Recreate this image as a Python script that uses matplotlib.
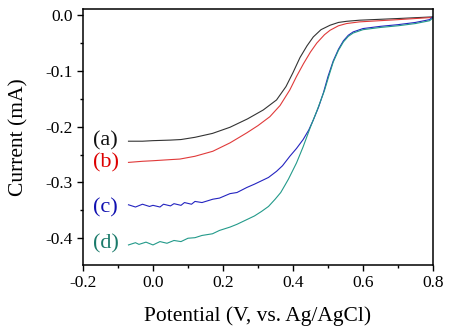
import matplotlib
matplotlib.use("Agg")
import matplotlib.pyplot as plt
from matplotlib.ticker import MultipleLocator

plt.rcParams['font.family'] = ['Liberation Serif', 'DejaVu Serif']

# curva (a)
va = [-0.07, -0.03, 0.00, 0.05, 0.08, 0.12, 0.17, 0.22, 0.27, 0.315, 0.353,
      0.38, 0.40, 0.42, 0.44, 0.458, 0.48, 0.506, 0.53, 0.553, 0.59, 0.70, 0.80]
ia = [-0.226, -0.226, -0.225, -0.224, -0.223, -0.219, -0.212, -0.201, -0.186,
      -0.170, -0.152, -0.128, -0.103, -0.076, -0.055, -0.039, -0.026, -0.018,
      -0.013, -0.011, -0.009, -0.006, -0.003]
# curva (b)
vb = [-0.07, -0.03, 0.00, 0.05, 0.077, 0.12, 0.171, 0.22, 0.268, 0.30, 0.334,
      0.363, 0.391, 0.41, 0.43, 0.45, 0.468, 0.49, 0.506, 0.53, 0.553, 0.59,
      0.70, 0.80]
ib = [-0.264, -0.262, -0.261, -0.259, -0.258, -0.253, -0.244, -0.229, -0.211,
      -0.198, -0.182, -0.162, -0.134, -0.110, -0.087, -0.066, -0.050, -0.035,
      -0.027, -0.019, -0.015, -0.012, -0.008, -0.004]
# curva (c)
vc = [-0.07, -0.05, -0.03, -0.01, 0.00, 0.02, 0.03, 0.05, 0.06, 0.08, 0.09,
      0.11, 0.12, 0.14, 0.171, 0.19, 0.22, 0.24, 0.268, 0.29, 0.31, 0.33,
      0.353, 0.37, 0.391, 0.41, 0.429, 0.445, 0.458, 0.473, 0.487, 0.50, 0.515,
      0.53, 0.544, 0.558, 0.572, 0.60, 0.65, 0.70, 0.75, 0.79, 0.80]
ic = [-0.340, -0.344, -0.339, -0.343, -0.341, -0.344, -0.339, -0.342, -0.338,
      -0.341, -0.336, -0.339, -0.334, -0.336, -0.330, -0.328, -0.320, -0.318,
      -0.309, -0.303, -0.297, -0.291, -0.280, -0.270, -0.253, -0.239, -0.223,
      -0.206, -0.188, -0.165, -0.139, -0.110, -0.082, -0.061, -0.046, -0.036,
      -0.030, -0.024, -0.020, -0.017, -0.013, -0.008, -0.003]
# curva (d)
vd = [-0.07, -0.05, -0.04, -0.02, 0.00, 0.02, 0.04, 0.06, 0.08, 0.10, 0.12,
      0.14, 0.17, 0.19, 0.22, 0.24, 0.27, 0.29, 0.31, 0.33, 0.349, 0.365,
      0.377, 0.387, 0.41, 0.429, 0.449, 0.468, 0.49, 0.503, 0.515, 0.53, 0.544,
      0.558, 0.572, 0.60, 0.65, 0.70, 0.75, 0.79, 0.80]
idd = [-0.412, -0.408, -0.411, -0.407, -0.412, -0.406, -0.409, -0.404,
       -0.406, -0.400, -0.399, -0.395, -0.392, -0.386, -0.380, -0.375, -0.366,
       -0.360, -0.352, -0.343, -0.330, -0.318, -0.305, -0.294, -0.265, -0.236,
       -0.202, -0.172, -0.135, -0.108, -0.084, -0.063, -0.048, -0.038, -0.032,
       -0.026, -0.022, -0.019, -0.015, -0.010, -0.005]

etiquetas = ['(a)', '(b)', '(c)', '(d)']
pos_etiq = [-0.225, -0.264, -0.345, -0.41]
colores = ['#333333', '#e03a3a', '#2424c0', '#239a8a']
colores_txt = ['#111111', '#dd0000', '#1010b0', '#1a7a6a']

fig = plt.figure(figsize=(4.5, 3.29), dpi=100)
ax = fig.add_axes([0.1844, 0.1945, 0.7778, 0.778])

for v, i, c in zip([va, vb, vc, vd], [ia, ib, ic, idd], colores):
    ax.plot(v, i, color=c, lw=0.8)

for t, y, c in zip(etiquetas, pos_etiq, colores_txt):
    ax.text(-0.135, y, t, color=c, fontsize=16, ha='center', va='center')

ax.set_xlim(-0.2, 0.8)
ax.set_ylim(-0.448, 0.011)
ax.xaxis.set_minor_locator(MultipleLocator(0.1))
ax.yaxis.set_minor_locator(MultipleLocator(0.05))
ax.set_xticks([-0.2, 0.0, 0.2, 0.4, 0.6, 0.8])
ax.set_xticklabels(['-0.2', '0.0', '0.2', '0.4', '0.6', '0.8'])
ax.set_yticks([0.0, -0.1, -0.2, -0.3, -0.4])
ax.set_yticklabels(['0.0', '-0.1', '-0.2', '-0.3', '-0.4'])
ax.tick_params(which='major', direction='out', length=4, width=1,
               labelsize=12.5)
ax.tick_params(which='minor', direction='out', length=2.5, width=1)
for s in ax.spines.values():
    s.set_linewidth(1.1)

ax.set_xlabel('Potential (V, vs. Ag/AgCl)', fontsize=15.5, labelpad=11)
ax.set_ylabel('Current (mA)', fontsize=15.5, labelpad=12)

fig.savefig('out.png', dpi=100)
